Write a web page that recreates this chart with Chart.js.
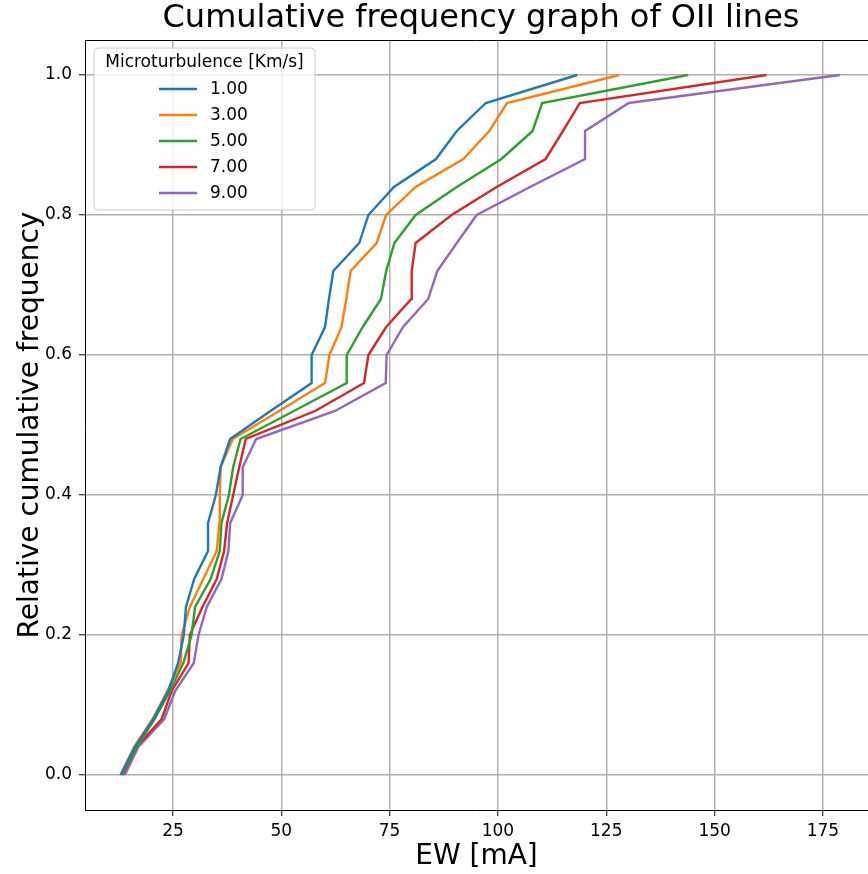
<!DOCTYPE html>
<html>
<head>
<meta charset="utf-8">
<script src="https://cdn.jsdelivr.net/npm/chart.js@4"></script>
<style>
  html, body { margin: 0; padding: 0; background: #fff; }
  canvas { display: block; }
</style>
</head>
<body>
<canvas id="cumChart" width="868" height="874"></canvas>
<script>
// cumulative frequency levels (26 lines)
const freqLevels = [0.00, 0.04, 0.08, 0.12, 0.16, 0.20, 0.24, 0.28, 0.32, 0.36, 0.40, 0.44, 0.48,
                    0.52, 0.56, 0.60, 0.64, 0.68, 0.72, 0.76, 0.80, 0.84, 0.88, 0.92, 0.96, 1.00];

const labels = ['1.00', '3.00', '5.00', '7.00', '9.00'];

// EW [mA] sorted, per microturbulence
const ew1 = [12.9, 16.2, 20.5, 23.9, 26.2, 27.5, 28.0, 29.9, 33.1, 33.1, 34.9, 36.0, 38.2,
             47.5, 57.0, 57.0, 60.1, 61.0, 62.0, 68.0, 70.1, 76.0, 85.7, 90.5, 97.2, 118.3];
const ew3 = [12.9, 16.0, 20.3, 23.7, 26.8, 27.0, 28.9, 32.0, 35.1, 35.7, 35.8, 36.0, 38.8,
             49.5, 60.1, 61.1, 63.9, 65.0, 66.0, 72.0, 74.2, 81.0, 92.0, 98.0, 102.1, 128.0];
const ew5 = [13.2, 16.6, 20.8, 24.3, 27.4, 29.3, 30.1, 33.7, 35.8, 36.2, 37.9, 38.9, 40.6,
             52.9, 65.1, 65.1, 68.8, 73.0, 74.2, 76.1, 81.0, 90.5, 100.8, 108.0, 110.2, 143.9];
const ew7 = [13.4, 16.6, 22.4, 24.7, 28.6, 28.9, 31.8, 35.1, 36.8, 37.5, 38.9, 40.3, 41.8,
             57.8, 69.1, 70.1, 74.2, 80.0, 80.1, 81.0, 89.3, 99.7, 111.0, 115.0, 118.9, 162.0];
const ew9 = [13.9, 17.0, 23.0, 25.5, 29.8, 30.9, 32.8, 36.2, 37.8, 38.2, 41.1, 41.1, 44.2,
             62.4, 74.1, 74.3, 78.1, 83.9, 86.0, 90.5, 95.1, 107.4, 120.1, 120.1, 130.2, 178.9];

const xTicks = [25, 50, 75, 100, 125, 150, 175];
const yTicks = [0.0, 0.2, 0.4, 0.6, 0.8, 1.0];

const colors = ['#1f77b4', '#ff7f0e', '#2ca02c', '#d62728', '#9467bd'];
const series = [ew1, ew3, ew5, ew7, ew9];

Chart.defaults.font.family = "'DejaVu Sans', sans-serif";
Chart.defaults.color = '#000';

const datasets = series.map(function (ew, i) {
    return {
        label: labels[i],
        data: ew.map(function (v, k) { return { x: v, y: freqLevels[k] }; }),
        borderColor: colors[i],
        backgroundColor: colors[i],
        borderWidth: 2.4,
        pointRadius: 0,
        tension: 0,
        fill: false
    };
});

// title, top frame line and matplotlib-like legend box
const framePlugin = {
    id: 'frame',
    afterDraw: function (chart) {
        const ctx = chart.ctx;
        const a = chart.chartArea;
        ctx.save();
        ctx.strokeStyle = '#000';
        ctx.lineWidth = 1;
        ctx.beginPath();
        ctx.moveTo(a.left, a.top + 0.5);
        ctx.lineTo(a.right, a.top + 0.5);
        ctx.stroke();

        // title, centred on the full (uncropped) axes
        ctx.fillStyle = '#000';
        ctx.font = "32px 'DejaVu Sans', sans-serif";
        ctx.textAlign = 'center';
        ctx.textBaseline = 'middle';
        ctx.fillText('Cumulative frequency graph of OII lines', 481, 19);

        // legend
        const bx = 94, by = 48, bw = 221, bh = 162, r = 4;
        ctx.beginPath();
        ctx.moveTo(bx + r, by);
        ctx.arcTo(bx + bw, by, bx + bw, by + bh, r);
        ctx.arcTo(bx + bw, by + bh, bx, by + bh, r);
        ctx.arcTo(bx, by + bh, bx, by, r);
        ctx.arcTo(bx, by, bx + bw, by, r);
        ctx.closePath();
        ctx.fillStyle = 'rgba(255,255,255,0.8)';
        ctx.fill();
        ctx.strokeStyle = '#cccccc';
        ctx.lineWidth = 1;
        ctx.stroke();

        ctx.fillStyle = '#000';
        ctx.font = "17px 'DejaVu Sans', sans-serif";
        ctx.textAlign = 'center';
        ctx.fillText('Microturbulence [Km/s]', bx + bw / 2, 63);

        ctx.textAlign = 'left';
        chart.data.datasets.forEach(function (ds, i) {
            const yy = 89 + i * 26;
            ctx.strokeStyle = ds.borderColor;
            ctx.lineWidth = 2.4;
            ctx.beginPath();
            ctx.moveTo(159, yy);
            ctx.lineTo(197, yy);
            ctx.stroke();
            ctx.fillStyle = '#000';
            ctx.fillText(ds.label, 210, yy + 1);
        });
        ctx.restore();
    }
};

const ctx = document.getElementById('cumChart').getContext('2d');
const chart = new Chart(ctx, {
    type: 'line',
    data: { datasets: datasets },
    options: {
        responsive: false,
        animation: false,
        layout: { padding: { top: 40, left: 0, right: 0, bottom: 0 } },
        plugins: {
            legend: { display: false },
            tooltip: { enabled: false },
            title: { display: false }
        },
        scales: {
            x: {
                type: 'linear',
                min: 4.7,
                max: 185.4,
                afterBuildTicks: function (scale) {
                    scale.ticks = xTicks.map(function (v) { return { value: v }; });
                },
                afterFit: function (scale) { scale.height = 64; },
                ticks: {
                    font: { size: 17 },
                    color: '#000',
                    padding: 5,
                    maxRotation: 0,
                    callback: function (v) { return String(v); }
                },
                grid: {
                    color: '#b0b0b0',
                    lineWidth: 1.5,
                    tickColor: '#000',
                    tickLength: 6,
                    tickWidth: 1
                },
                border: { color: '#000', width: 1 },
                title: {
                    display: true,
                    text: 'EW [mA]',
                    font: { size: 28 },
                    color: '#000',
                    padding: { top: 0, bottom: 0 }
                }
            },
            y: {
                type: 'linear',
                min: -0.05,
                max: 1.05,
                afterBuildTicks: function (scale) {
                    scale.ticks = yTicks.map(function (v) { return { value: v }; });
                },
                afterFit: function (scale) { scale.width = 85; },
                ticks: {
                    font: { size: 17 },
                    color: '#000',
                    padding: 7,
                    callback: function (v) { return Number(v).toFixed(1); }
                },
                grid: {
                    color: '#b0b0b0',
                    lineWidth: 1.5,
                    tickColor: '#000',
                    tickLength: 6,
                    tickWidth: 1
                },
                border: { color: '#000', width: 1 },
                title: {
                    display: true,
                    text: 'Relative cumulative frequency',
                    font: { size: 28 },
                    color: '#000',
                    padding: { top: 14, bottom: 0 }
                }
            }
        }
    },
    plugins: [framePlugin]
});
</script>
</body>
</html>
